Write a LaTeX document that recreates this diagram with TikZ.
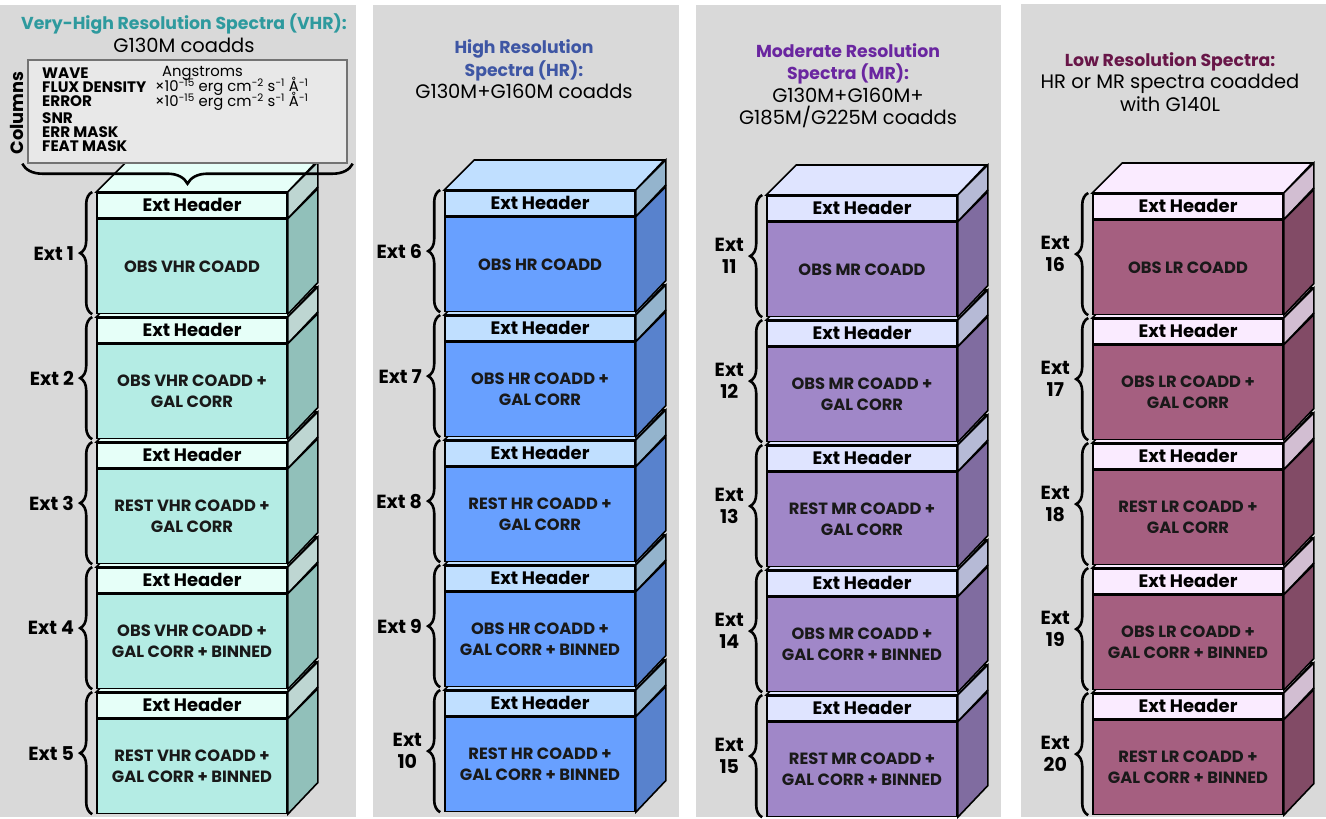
\documentclass[tikz,border=0pt]{standalone}
\usepackage{fontspec}
\setmainfont{Poppins}
\usetikzlibrary{decorations.pathreplacing}
\usetikzlibrary{positioning}

\definecolor{panelgray}{RGB}{217,217,217}
\definecolor{vhrtitle}{RGB}{46,154,158}
\definecolor{hrtitle}{RGB}{62,86,164}
\definecolor{mrtitle}{RGB}{106,38,160}
\definecolor{lrtitle}{RGB}{104,22,72}

\definecolor{vhrhead}{RGB}{230,255,248}
\definecolor{vhrbody}{RGB}{180,236,228}
\definecolor{vhrside}{RGB}{145,192,186}
\definecolor{vhrsidehead}{RGB}{190,214,210}
\definecolor{hrhead}{RGB}{192,223,255}
\definecolor{hrbody}{RGB}{104,160,255}
\definecolor{hrside}{RGB}{88,130,205}
\definecolor{hrsidehead}{RGB}{148,180,205}
\definecolor{mrhead}{RGB}{223,228,255}
\definecolor{mrbody}{RGB}{160,135,200}
\definecolor{mrside}{RGB}{128,108,160}
\definecolor{mrsidehead}{RGB}{182,186,214}
\definecolor{lrhead}{RGB}{250,235,255}
\definecolor{lrbody}{RGB}{165,95,128}
\definecolor{lrside}{RGB}{130,75,102}
\definecolor{lrsidehead}{RGB}{210,190,210}

\newcommand{\colfont}{\fontsize{15.2}{14}\selectfont\setlength{\lineskiplimit}{-20pt}}
\newcommand{\unitfont}{\fontsize{14.8}{15}\selectfont\setlength{\lineskiplimit}{-20pt}}
\newcommand{\ttlb}[2]{{\fontsize{17.3}{22.5}\selectfont\bfseries\color{#1}#2}}

\tikzset{edge/.style = {draw=black, line width=1.6pt, line join=miter}}
\tikzset{hdrbox/.style = {edge, minimum width=190pt, minimum height=25pt, inner sep=0,
                          anchor=north, font=\bfseries\fontsize{18}{20}\selectfont}}
\tikzset{bodybox/.style = {edge, minimum width=190pt, minimum height=94pt, inner sep=0,
                           anchor=north, align=center, text=black!90,
                           font=\bfseries\fontsize{16.3}{21}\selectfont}}
\tikzset{extbrace/.style = {decorate, decoration={brace, amplitude=12pt}, line width=2.6pt}}
\tikzset{extlabel/.style = {anchor=east, align=center, inner sep=0, xshift=-17pt,
                            font=\bfseries\fontsize{19}{22}\selectfont}}
\tikzset{ttl/.style = {align=center, font=\fontsize{19.5}{22.5}\selectfont}}
\tikzset{panel/.style = {fill=panelgray}}
\tikzset{collist/.style = {anchor=north west, align=left, inner sep=0, font=\colfont}}

% one extension: header + data block, drawn as a box
\newcommand{\fitscube}[6]{%
  \node[hdrbox, fill=#4head] (#1h) at (#2,#3) {Ext Header};
  \node[bodybox, fill=#4body] (#1b) at (#1h.south) {#5};
  \draw[edge, fill=#4head] (#1h.north west) -- ++(30,-30) -- ++(190,0) -- (#1h.north east) -- cycle;
  \draw[edge, fill=#4sidehead] (#1h.north east) -- ++(30,-30) -- ++(0,25) -- (#1h.south east) -- cycle;
  \draw[edge, fill=#4side] (#1b.north east) -- ++(30,-30) -- ++(0,94) -- (#1b.south east) -- cycle;
  \draw[extbrace] ([xshift=-4pt]#1b.south west) -- node[extlabel] (#1l) {#6} ([xshift=-4pt]#1h.north west);
}

\begin{document}
\begin{tikzpicture}[x=1pt, y=-1pt]
  \useasboundingbox (0,0) rectangle (1326,819);
  \fill[white] (0,0) rectangle (1326,819);

  \fill[panel] (0,5) rectangle (356,817);
  \fill[panel] (373,5) rectangle (679,817);
  \fill[panel] (696,5) rectangle (1001,817);
  \fill[panel] (1021,4) rectangle (1326,817);

  % titles
  \node[ttl] (vhrt) at (184,33) {\ttlb{vhrtitle}{Very-High Resolution Spectra (VHR):}\\G130M coadds};
  \node[ttl] (hrt) at (524,69.5) {\ttlb{hrtitle}{High Resolution}\\\ttlb{hrtitle}{Spectra (HR):}\\G130M+G160M coadds};
  \node[ttl] (mrt) at (848,85.5) {\ttlb{mrtitle}{Moderate Resolution}\\\ttlb{mrtitle}{Spectra (MR):}\\G130M+G160M+\\G185M/G225M coadds};
  \node[ttl] (lrt) at (1170,82) {\ttlb{lrtitle}{Low Resolution Spectra:}\\HR or MR spectra coadded\\with G140L};

  % VHR stack
  \fitscube{v5}{192}{692}{vhr}{REST VHR COADD +\\GAL CORR + BINNED}{Ext 5}
  \fitscube{v4}{192}{567}{vhr}{OBS VHR COADD +\\GAL CORR + BINNED}{Ext 4}
  \fitscube{v3}{192}{442}{vhr}{REST VHR COADD +\\GAL CORR}{Ext 3}
  \fitscube{v2}{192}{317}{vhr}{OBS VHR COADD +\\GAL CORR}{Ext 2}
  \fitscube{v1}{192}{192}{vhr}{OBS VHR COADD}{Ext 1}

  % HR stack
  \fitscube{h5}{540}{690}{hr}{REST HR COADD +\\GAL CORR + BINNED}{Ext\\10}
  \fitscube{h4}{540}{565}{hr}{OBS HR COADD +\\GAL CORR + BINNED}{Ext 9}
  \fitscube{h3}{540}{440}{hr}{REST HR COADD +\\GAL CORR}{Ext 8}
  \fitscube{h2}{540}{315}{hr}{OBS HR COADD +\\GAL CORR}{Ext 7}
  \fitscube{h1}{540}{190}{hr}{OBS HR COADD}{Ext 6}

  % MR stack
  \fitscube{m5}{862}{695}{mr}{REST MR COADD +\\GAL CORR + BINNED}{Ext\\15}
  \fitscube{m4}{862}{570}{mr}{OBS MR COADD +\\GAL CORR + BINNED}{Ext\\14}
  \fitscube{m3}{862}{445}{mr}{REST MR COADD +\\GAL CORR}{Ext\\13}
  \fitscube{m2}{862}{320}{mr}{OBS MR COADD +\\GAL CORR}{Ext\\12}
  \fitscube{m1}{862}{195}{mr}{OBS MR COADD}{Ext\\11}

  % LR stack
  \fitscube{l5}{1188}{693}{lr}{REST LR COADD +\\GAL CORR + BINNED}{Ext\\20}
  \fitscube{l4}{1188}{568}{lr}{OBS LR COADD +\\GAL CORR + BINNED}{Ext\\19}
  \fitscube{l3}{1188}{443}{lr}{REST LR COADD +\\GAL CORR}{Ext\\18}
  \fitscube{l2}{1188}{318}{lr}{OBS LR COADD +\\GAL CORR}{Ext\\17}
  \fitscube{l1}{1188}{193}{lr}{OBS LR COADD}{Ext\\16}

  % column list
  \node[draw=black!55, fill=black!9, line width=1.4pt, minimum width=319pt, minimum height=103pt] (cols) at (187.5,111.5) {};
  \node[collist, font=\colfont\bfseries] (names) at (42,68)
    {WAVE\\FLUX DENSITY\\ERROR\\[3pt]SNR\\ERR MASK\\FEAT MASK};
  \node[collist, font=\unitfont] (units) at (155,66.5)
    {\hspace{7pt}Angstroms\\×10\textsuperscript{−15} erg cm\textsuperscript{−2} s\textsuperscript{−1} Å\textsuperscript{−1}\\×10\textsuperscript{−15} erg cm\textsuperscript{−2} s\textsuperscript{−1} Å\textsuperscript{−1}};
  \node[rotate=90, inner sep=0, font=\bfseries\fontsize{17.8}{20}\selectfont] (colt) at (17,113) {Columns};
  \draw[decorate, decoration={brace, amplitude=20pt}, line width=2.6pt]
    ([xshift=5pt]cols.south east) -- ([xshift=-5pt]cols.south west);
\end{tikzpicture}
\end{document}
